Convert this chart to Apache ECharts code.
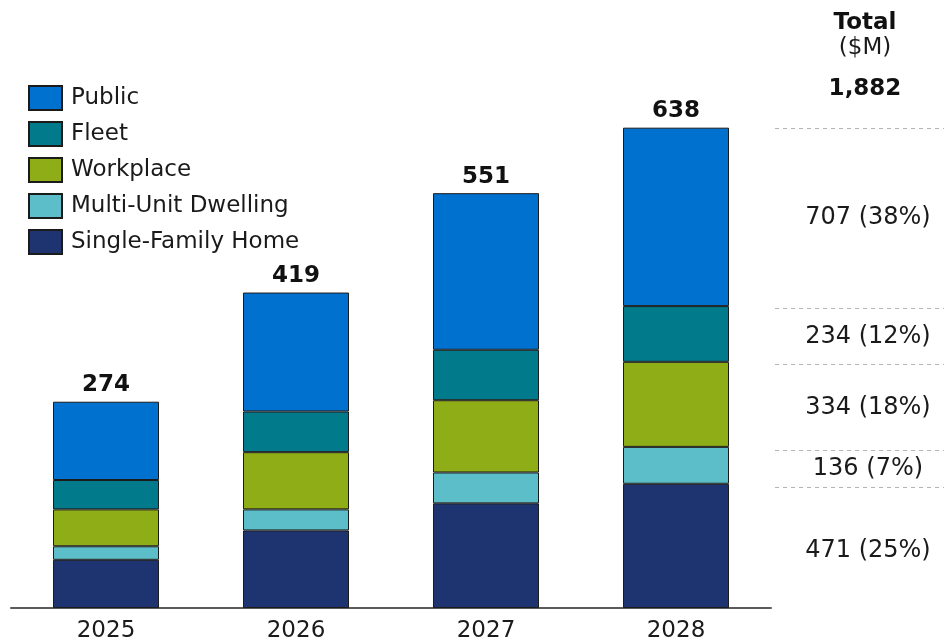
<!DOCTYPE html>
<html>
<head>
<meta charset="utf-8">
<script src="https://cdn.jsdelivr.net/npm/echarts@6/dist/echarts.min.js"></script>
<style>
  html, body { margin: 0; padding: 0; background: #fff; }
  #chart { width: 944px; height: 643px; }
</style>
</head>
<body>
<div id="chart"></div>
<script>
// Annual spend by charging segment ($M)
const years = ['2025', '2026', '2027', '2028'];
const singleFamilyHome = [64, 103, 139, 165];
const multiUnitDwelling = [18, 28, 41, 49];
const workplace = [49, 76, 96, 113];
const fleet = [39, 54, 67, 74];
const publicCharging = [104, 158, 208, 237];

const seriesNames = ['Single-Family Home', 'Multi-Unit Dwelling', 'Workplace', 'Fleet', 'Public'];
const seriesData = [singleFamilyHome, multiUnitDwelling, workplace, fleet, publicCharging];
const seriesColors = ['#1e3471', '#5bbec9', '#8fad16', '#017b8c', '#0171d0'];

const FONT = 'DejaVu Sans, Verdana, sans-serif';
const sum = a => a.reduce((s, v) => s + v, 0);

const yearTotals = years.map((_, i) => sum(seriesData.map(s => s[i])));
const segmentTotals = seriesData.map(sum);
const grandTotal = sum(segmentTotals);

// Right-hand summary: dashed separators at the cumulative boundaries of the last year,
// each segment's total placed in the middle of its band.
const last = years.length - 1;
const boundaries = [0];
seriesData.forEach(s => boundaries.push(boundaries[boundaries.length - 1] + s[last]));
const summaryPoints = seriesData.map((s, k) => ({
  value: [0.55, (boundaries[k] + boundaries[k + 1]) / 2],
  label: segmentTotals[k] + ' (' + Math.round(segmentTotals[k] / grandTotal * 100) + '%)'
}));

const Y_MAX = 700;

const chart = echarts.init(document.getElementById('chart'), null, { renderer: 'canvas' });

const barSeries = seriesNames.map((name, k) => ({
  name: name,
  type: 'bar',
  stack: 'total',
  xAxisIndex: 0,
  yAxisIndex: 0,
  barWidth: 106,
  data: seriesData[k],
  itemStyle: { color: seriesColors[k], borderColor: '#1b1b1b', borderWidth: 1 },
  label: k === seriesNames.length - 1 ? {
    show: true,
    position: 'top',
    distance: 5,
    formatter: p => String(yearTotals[p.dataIndex]),
    fontFamily: FONT,
    fontWeight: 'bold',
    fontSize: 23,
    color: '#111'
  } : { show: false },
  emphasis: { disabled: true },
  animation: false
}));

chart.setOption({
  animation: false,
  textStyle: { fontFamily: FONT },
  grid: [
    { left: 11, right: 173, top: 81, bottom: 30 },
    { left: 775, right: 0, top: 81, bottom: 30 }
  ],
  xAxis: [
    {
      type: 'category',
      gridIndex: 0,
      data: years,
      axisLine: { show: true, lineStyle: { color: '#5a5a5a', width: 2 } },
      axisTick: { show: false },
      axisLabel: { fontFamily: FONT, fontSize: 23, color: '#1a1a1a', margin: 12 }
    },
    { type: 'value', gridIndex: 1, min: 0, max: 1, show: false }
  ],
  yAxis: [
    { type: 'value', gridIndex: 0, min: 0, max: Y_MAX, show: false, splitLine: { show: false } },
    { type: 'value', gridIndex: 1, min: 0, max: Y_MAX, show: false, splitLine: { show: false } }
  ],
  legend: {
    orient: 'vertical',
    left: 23,
    top: 80,
    itemWidth: 33,
    itemHeight: 24,
    itemGap: 10,
    icon: 'rect',
    data: seriesNames.slice().reverse(),
    textStyle: { fontFamily: FONT, fontSize: 23, color: '#1a1a1a', padding: [0, 0, 0, 4] },
    selectedMode: false
  },
  series: barSeries.concat([{
    name: 'summary',
    type: 'scatter',
    xAxisIndex: 1,
    yAxisIndex: 1,
    symbolSize: 0,
    itemStyle: { opacity: 1 },
    data: summaryPoints.map(p => ({ value: p.value, label: { formatter: p.label } })),
    label: {
      show: true,
      position: 'inside',
      fontFamily: FONT,
      fontSize: 24,
      color: '#1a1a1a'
    },
    markLine: {
      silent: true,
      symbol: 'none',
      label: { show: false },
      lineStyle: { color: '#b4b4b4', type: [4, 4], width: 1 },
      data: boundaries.slice(1).map(b => ({ yAxis: b }))
    },
    emphasis: { disabled: true },
    animation: false
  }]),
  graphic: [
    {
      type: 'text', x: 865, y: 23,
      style: { text: 'Total', align: 'center', verticalAlign: 'middle',
               font: 'bold 23px ' + FONT, fill: '#111' }
    },
    {
      type: 'text', x: 865, y: 48,
      style: { text: '($M)', align: 'center', verticalAlign: 'middle',
               font: '23px ' + FONT, fill: '#1a1a1a' }
    },
    {
      type: 'text', x: 865, y: 89,
      style: { text: grandTotal.toLocaleString('en-US'), align: 'center', verticalAlign: 'middle',
               font: 'bold 23px ' + FONT, fill: '#111' }
    }
  ]
});
</script>
</body>
</html>
